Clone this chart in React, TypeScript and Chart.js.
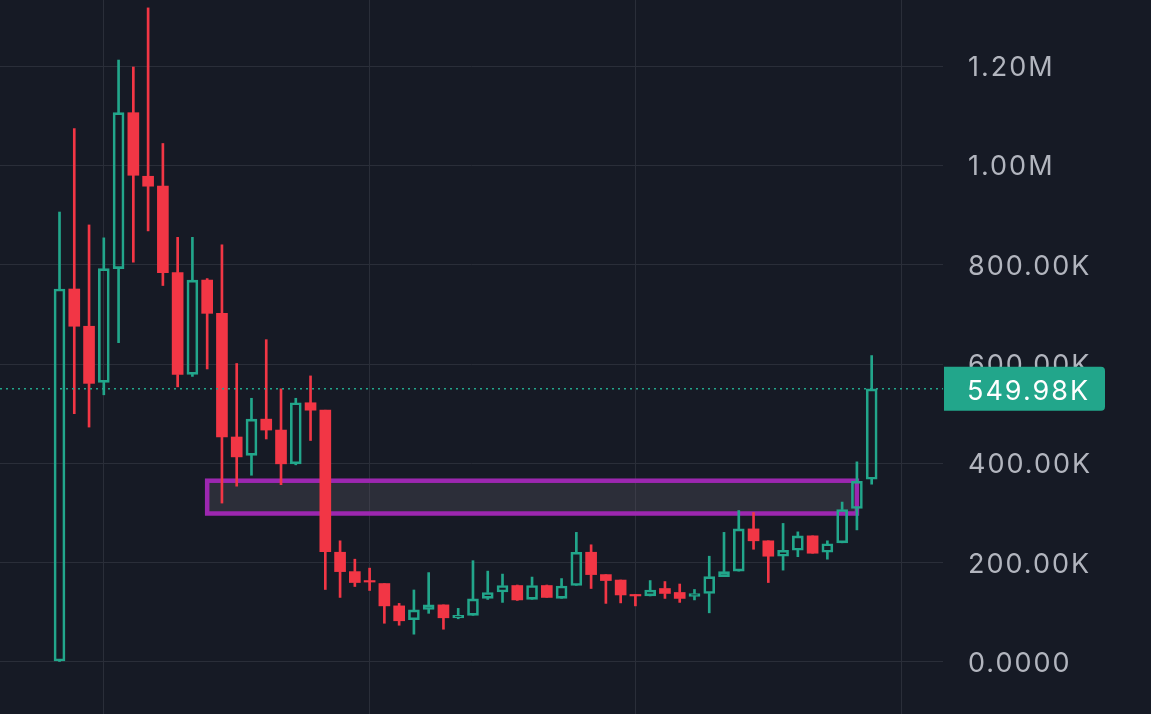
import React, { useEffect, useRef } from "react";
import { Chart, registerables } from "chart.js";

Chart.register(...registerables);

// Values in thousands (K)
const OPEN = [
  2, 751, 676, 563, 792, 1106, 978, 958, 784, 579,
  769, 702, 453, 416, 489, 467, 399, 522, 507, 221,
  182, 164, 158, 113, 85, 106, 115, 89, 94, 128,
  141, 154, 126, 154, 128, 154, 221, 176, 165, 136,
  133, 148, 140, 132, 138, 172, 183, 268, 244, 213,
  225, 254, 221, 240, 309, 368,
];
const HIGH = [
  906, 1074, 880, 854, 1212, 1198, 1317, 1044, 855, 855,
  772, 840, 601, 531, 649, 550, 531, 576, 507, 244,
  207, 189, 158, 118, 145, 180, 115, 108, 204, 183,
  177, 155, 171, 155, 168, 261, 236, 176, 165, 136,
  164, 162, 157, 146, 213, 261, 305, 301, 244, 279,
  262, 254, 244, 322, 403, 617,
];
const LOW = [
  0, 500, 473, 538, 643, 805, 868, 758, 554, 575,
  590, 320, 354, 376, 449, 357, 397, 446, 146, 130,
  152, 144, 78, 74, 56, 98, 66, 87, 94, 126,
  120, 124, 126, 130, 128, 154, 148, 118, 119, 113,
  133, 128, 120, 125, 99, 172, 183, 227, 160, 185,
  212, 219, 207, 240, 266, 358,
];
const CLOSE = [
  751, 676, 561, 792, 1106, 980, 958, 784, 579, 769,
  702, 453, 413, 489, 467, 399, 522, 507, 222, 182,
  160, 161, 113, 83, 105, 115, 89, 94, 127, 140,
  154, 125, 154, 130, 153, 221, 176, 164, 135, 133,
  145, 138, 128, 138, 172, 182, 268, 244, 213, 225,
  254, 219, 238, 307, 364, 549.98,
];

const Y_TICKS = [0, 200, 400, 600, 800, 1000, 1200];
const X_GRID = [3, 21, 39, 57];
const ZONE_START = 10;
const ZONE_END = 54;
const ZONE_LOW = 299;
const ZONE_HIGH = 365;
const LAST_PRICE = 549.98;
const LAST_LABEL = "549.98K";

const BG = "#161a25";
const GREEN = "#22a68b";
const RED = "#f23645";
const GRID = "#2a2e39";
const TEXT = "#b2b5be";
const FONT = "Inter";

function fmt(v: number): string {
  if (v === 0) return "0.0000";
  if (v >= 1000) return (v / 1000).toFixed(2) + "M";
  return v.toFixed(2) + "K";
}

export default function App() {
  const ref = useRef<HTMLCanvasElement>(null);

  useEffect(() => {
    const idx = OPEN.map((_, i) => i);
    const up = idx.map((i) => CLOSE[i] >= OPEN[i]);
    const col = idx.map((i) => (up[i] ? GREEN : RED));

    const spacingPlugin = {
      id: "spacing",
      beforeDraw(chart: any) {
        (chart.ctx as any).letterSpacing = "2px";
      },
    };

    const zonePlugin = {
      id: "zone",
      beforeDatasetsDraw(chart: any) {
        const { ctx, scales } = chart;
        const x0 = scales.x.getPixelForValue(ZONE_START);
        const x1 = scales.x.getPixelForValue(ZONE_END);
        const y0 = scales.y.getPixelForValue(ZONE_HIGH);
        const y1 = scales.y.getPixelForValue(ZONE_LOW);
        ctx.save();
        ctx.fillStyle = "rgba(90,88,100,0.33)";
        ctx.fillRect(x0, y0, x1 - x0, y1 - y0);
        ctx.strokeStyle = "#9c27b0";
        ctx.lineWidth = 4.5;
        ctx.strokeRect(x0, y0, x1 - x0, y1 - y0);
        ctx.restore();
      },
    };

    const pricePlugin = {
      id: "price",
      afterDatasetsDraw(chart: any) {
        const { ctx, scales, chartArea } = chart;
        const y = scales.y.getPixelForValue(LAST_PRICE);
        ctx.save();
        ctx.strokeStyle = GREEN;
        ctx.lineWidth = 1.5;
        ctx.setLineDash([2, 4]);
        ctx.beginPath();
        ctx.moveTo(chartArea.left, y);
        ctx.lineTo(chartArea.right, y);
        ctx.stroke();
        ctx.restore();
      },
      afterDraw(chart: any) {
        const { ctx, scales, chartArea } = chart;
        const y = scales.y.getPixelForValue(LAST_PRICE);
        const x = chartArea.right + 1;
        const w = 161;
        const h = 44;
        ctx.save();
        ctx.fillStyle = GREEN;
        ctx.beginPath();
        ctx.roundRect(x, y - h / 2, w, h, [0, 4, 4, 0]);
        ctx.fill();
        ctx.fillStyle = "#ffffff";
        ctx.font = `27px ${FONT}`;
        (ctx as any).letterSpacing = "2px";
        ctx.textBaseline = "middle";
        ctx.textAlign = "left";
        ctx.fillText(LAST_LABEL, chartArea.right + 24, y + 3);
        ctx.restore();
      },
    };

    const chart = new Chart(ref.current!, {
      type: "bar",
      data: {
        datasets: [
          {
            label: "upper",
            data: idx.map((i) => ({ x: i, y: [Math.max(OPEN[i], CLOSE[i]), HIGH[i]] })) as any,
            backgroundColor: col,
            borderWidth: 0,
            barThickness: 2,
            grouped: false,
            order: 2,
          } as any,
          {
            label: "lower",
            data: idx.map((i) => ({ x: i, y: [LOW[i], Math.min(OPEN[i], CLOSE[i])] })) as any,
            backgroundColor: col,
            borderWidth: 0,
            barThickness: 2,
            grouped: false,
            order: 2,
          } as any,
          {
            label: "body",
            data: idx.map((i) => ({ x: i, y: [OPEN[i], CLOSE[i]] })) as any,
            backgroundColor: idx.map((i) => (up[i] ? "rgba(0,0,0,0)" : RED)),
            borderColor: col,
            borderWidth: idx.map((i) => (up[i] ? 2 : 0)),
            borderSkipped: false,
            barThickness: 11,
            grouped: false,
            order: 1,
          } as any,
        ],
      },
      options: {
        animation: false,
        responsive: false,
        events: [],
        layout: { padding: 0 },
        plugins: { legend: { display: false }, tooltip: { enabled: false } },
        scales: {
          x: {
            type: "linear",
            min: -4.03,
            max: 59.83,
            offset: false,
            afterBuildTicks: (s: any) => {
              s.ticks = X_GRID.map((v) => ({ value: v }));
            },
            ticks: { display: false },
            grid: { color: GRID, lineWidth: 1, drawTicks: false, offset: false },
            border: { display: false },
          },
          y: {
            type: "linear",
            position: "right",
            min: -104.7,
            max: 1332.9,
            afterBuildTicks: (s: any) => {
              s.ticks = Y_TICKS.map((v) => ({ value: v }));
            },
            afterFit: (s: any) => {
              s.width = 208;
              s.paddingTop = 0;
              s.paddingBottom = 0;
            },
            ticks: {
              padding: 25,
              labelOffset: 2,
              color: TEXT,
              font: { family: FONT, size: 27 },
              callback: (v: any) => fmt(Number(v)),
            },
            grid: { color: GRID, lineWidth: 1, drawTicks: false },
            border: { display: false },
          },
        },
      } as any,
      plugins: [spacingPlugin, zonePlugin, pricePlugin],
    });
    return () => chart.destroy();
  }, []);

  return (
    <div
      style={{
        position: "fixed",
        left: 0,
        top: 0,
        width: 1151,
        height: 714,
        background: BG,
      }}
    >
      <canvas
        ref={ref}
        width={1151}
        height={714}
        style={{ display: "block", width: 1151, height: 714 }}
      />
    </div>
  );
}
